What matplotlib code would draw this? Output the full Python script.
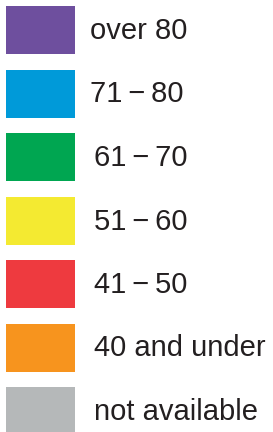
import matplotlib
matplotlib.use("Agg")
import matplotlib.pyplot as plt

# legend categories, top to bottom
labels = ["over 80", "71\u2009\u2212\u200980", "61\u2009\u2212\u200970",
          "51\u2009\u2212\u200960", "41\u2009\u2212\u200950",
          "40 and under", "not available"]
colors = ["#6e4f9e", "#009ad9", "#00a651", "#f4ea31", "#ee3a3f",
          "#f7941e", "#b5b8b9"]

plt.rcParams['font.family'] = ['Liberation Sans', 'DejaVu Sans']

fig = plt.figure(figsize=(2.73, 4.32), dpi=100)
ax = fig.add_axes([0, 0, 1, 1])
ax.set_xlim(0, 273)
ax.set_ylim(432, 0)
ax.axis("off")

# boxes and labels
step = 63.5
for i, (lab, col) in enumerate(zip(labels, colors)):
    yc = 30 + i * step
    ax.barh(yc, 69, left=6, height=48, color=col, linewidth=0)
    ax.text(90 if i < 2 else 94, yc + 1, lab, fontsize=21, color="#231f20",
            va="center", ha="left")

fig.savefig("out.png", dpi=100)
